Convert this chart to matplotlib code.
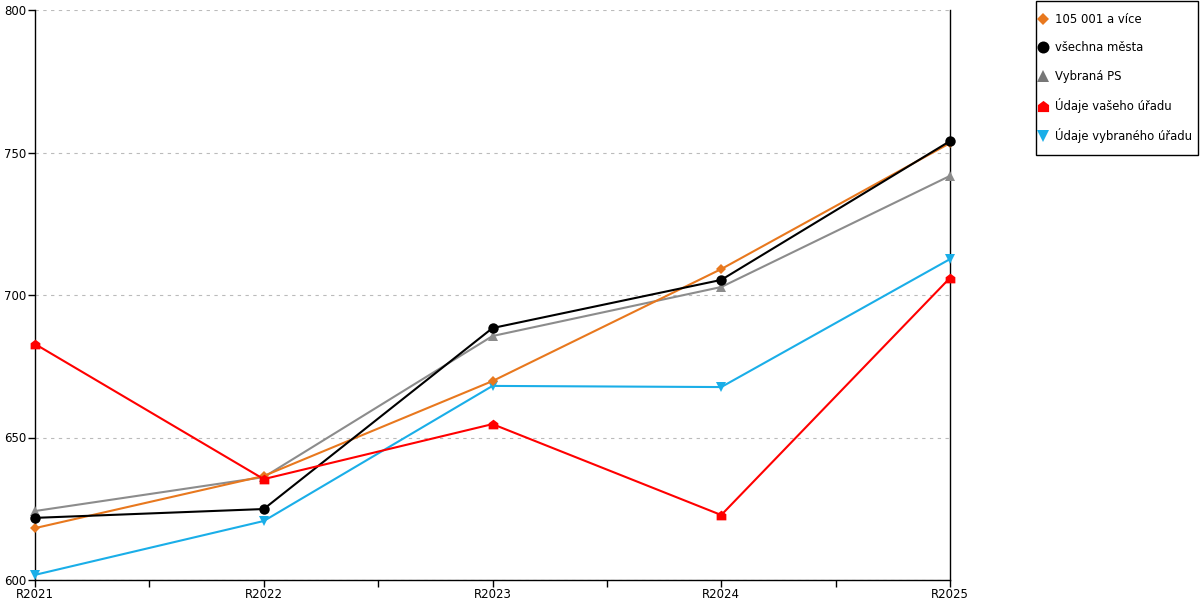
import matplotlib
matplotlib.use("Agg")
import matplotlib.pyplot as plt
from matplotlib.lines import Line2D
from matplotlib.patches import Rectangle
from matplotlib.path import Path

years = ["R2021", "R2022", "R2023", "R2024", "R2025"]

velka_mesta = [618.2, 636.5, 669.8, 709.1, 753.3]
vsechna_mesta = [621.8, 624.9, 688.4, 705.3, 754.0]
vybrana_ps = [624.2, 636.1, 685.6, 702.8, 741.8]
vas_urad = [682.8, 635.4, 654.7, 622.8, 706.0]
vybrany_urad = [601.8, 620.7, 668.1, 667.7, 712.6]

house = Path([(-1, -1), (1, -1), (1, 0.25), (0, 1), (-1, 0.25), (-1, -1)],
             [Path.MOVETO, Path.LINETO, Path.LINETO, Path.LINETO, Path.LINETO, Path.CLOSEPOLY])

series = [
    ("Údaje vybraného úřadu", vybrany_urad, "#1aaee8", "v", 7.5),
    ("Vybraná PS", vybrana_ps, "#8c8c8c", "^", 7.5),
    ("105 001 a více", velka_mesta, "#e8781e", "D", 5),
    ("všechna města", vsechna_mesta, "#000000", "o", 7.5),
    ("Údaje vašeho úřadu", vas_urad, "#ff0000", house, 7),
]
legend_order = ["105 001 a více", "všechna města", "Vybraná PS",
                "Údaje vašeho úřadu", "Údaje vybraného úřadu"]
legend_colors = {"Vybraná PS": "#777777"}

plt.rcParams['font.family'] = ['DejaVu Sans']
fig = plt.figure(figsize=(12, 6), dpi=100)
ax = fig.add_axes([35 / 1200, 20 / 600, 915 / 1200, 570 / 600])

x = list(range(len(years)))
handles = {}
for name, vals, color, marker, size in series:
    ax.plot(x, vals, color=color, lw=1.5, marker=marker, markersize=size,
            markeredgewidth=0, clip_on=False, zorder=3)
    handles[name] = Line2D([], [], color=legend_colors.get(name, color), marker=marker,
                           markersize=size * 1.15, markeredgewidth=0, linestyle="none")

ax.set_xlim(0, len(years) - 1)
ax.set_ylim(600, 800)
ax.set_xticks(x)
ax.set_xticklabels(years)
ax.set_xticks([i + 0.5 for i in x[:-1]], minor=True)
ax.set_yticks([600, 650, 700, 750, 800])
ax.tick_params(axis="both", direction="out", length=5, width=1, labelsize=8.5, pad=1)
ax.tick_params(axis="x", which="minor", direction="out", length=5, width=1)
ax.yaxis.grid(True, color="#bbbbbb", linestyle=(0, (3, 4)), lw=0.8)
ax.set_axisbelow(True)

ax.spines["top"].set_visible(False)
for s in ["left", "right", "bottom"]:
    ax.spines[s].set_linewidth(1)
    ax.spines[s].set_color("black")

# legend without its own frame, box drawn separately
leg = fig.legend([handles[n] for n in legend_order], legend_order,
                 loc="upper left", bbox_to_anchor=(1038.3 / 1200, 1 - 13.2 / 600),
                 fontsize=8.4, frameon=False,
                 labelspacing=1.31, handlelength=0.8, handletextpad=0.63,
                 borderpad=0, borderaxespad=0)
fig.patches.append(Rectangle((1035.5 / 1200, 1 - 155 / 600), 162 / 1200, 154 / 600,
                             transform=fig.transFigure, fill=False,
                             edgecolor="black", linewidth=1))

fig.savefig("out.png", dpi=100)
